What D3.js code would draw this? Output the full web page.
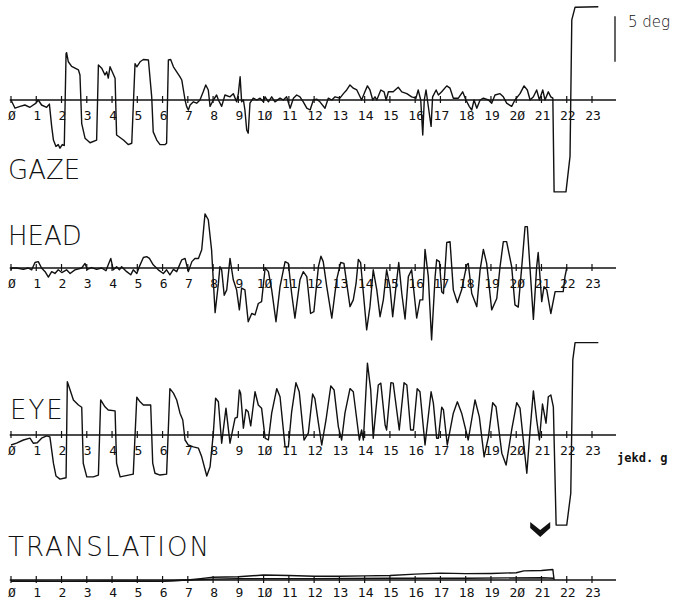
<!DOCTYPE html>
<html>
<head>
<meta charset="utf-8">
<script src="https://cdn.jsdelivr.net/npm/d3@7"></script>
<style>
  html, body { margin: 0; padding: 0; background: #fff; }
  svg { display: block; }
  .panel-label { font-family: "DejaVu Sans", sans-serif; font-weight: 200; font-size: 26px; fill: #111; }
  .tick-label { font-family: "DejaVu Sans Mono", monospace; font-size: 13px; fill: #111; }
</style>
</head>
<body>
<svg id="chart"></svg>
<script>
// time ticks (0..23), the plotter writes zero as a slashed Ø
const tickValues = d3.range(0, 24);
const tickLabels = tickValues.map(v => String(v).replace(/0/g, 'Ø'));

// traces: [time, degrees]
const gaze = [
  [0,0],[0.16,-0.9],[0.36,-0.7],[0.55,-0.55],[0.75,-0.8],[0.99,-0.35],[1.08,0],[1.21,-0.55],[1.41,-0.8],[1.52,-0.45],
  [1.61,-2.9],[1.68,-4.4],[1.78,-5.1],[1.87,-4.9],[1.94,-5.3],[2.03,-4.9],[2.11,-5.0],[2.18,5.1],[2.2,5.2],[2.27,4.2],
  [2.4,3.7],[2.67,3.3],[2.73,2.75],[2.8,-2.6],[2.93,-4.2],[3.13,-4.7],[3.39,-4.4],[3.46,3.85],[3.59,3.5],[3.72,2.75],
  [3.79,3.1],[3.85,2.4],[3.92,3.65],[4.12,2.4],[4.18,-3.85],[4.45,-4.4],[4.64,-4.9],[4.78,-4.75],[4.91,4.0],[4.98,3.65],
  [5.11,4.2],[5.24,4.45],[5.44,4.4],[5.57,0.35],[5.63,-3.5],[5.77,-4.4],[5.9,-4.9],[6.1,-4.9],[6.16,-4.75],[6.23,4.4],
  [6.32,4.45],[6.43,3.65],[6.56,3.1],[6.69,2.55],[6.76,2.2],[6.89,0],[6.95,-0.7],[7.02,-1.1],[7.09,-0.55],[7.22,-0.2],
  [7.35,-0.35],[7.48,0],[7.61,0.9],[7.71,1.65],[7.81,1.1],[7.88,-0.7],[8.01,0],[8.14,0.55],[8.21,0],[8.34,-0.7],
  [8.47,0.55],[8.67,0.35],[8.8,0.7],[8.93,-0.2],[9.0,0.7],[9.07,2.55],[9.13,-0.2],[9.2,0],[9.26,-1.1],[9.33,-3.3],
  [9.39,-3.65],[9.46,-0.35],[9.59,0.2],[9.73,0],[9.86,0.2],[9.99,-0.2],[10.06,0.35],[10.19,-0.2],[10.32,0.35],[10.45,-0.2],
  [10.65,0.2],[10.78,0],[10.91,0.35],[11.05,-0.9],[11.18,0.2],[11.31,0.55],[11.44,0.35],[11.57,-0.2],[11.71,-0.9],[11.84,-1.1],
  [11.97,0],[12.1,0.1],[12.23,-0.2],[12.43,-0.9],[12.56,0.2],[12.7,0],[12.83,0.35],[13.02,0.2],[13.16,0.7],[13.29,1.1],
  [13.42,1.65],[13.55,1.3],[13.69,1.1],[13.88,0],[14.01,0.9],[14.11,1.55],[14.21,1.1],[14.32,0],[14.41,0.35],[14.48,0],
  [14.64,1.1],[14.77,0.9],[14.85,0],[14.94,0.9],[15.13,0.9],[15.33,1.4],[15.47,0.9],[15.67,0.7],[15.86,0.35],[16.03,0.2],
  [16.12,1.1],[16.22,0],[16.3,-3.85],[16.36,0],[16.43,1.1],[16.54,-1.1],[16.63,-2.9],[16.69,0.35],[16.83,1.1],[16.92,0.55],
  [17.05,0.9],[17.25,1.55],[17.38,1.3],[17.51,0.2],[17.71,0.2],[17.88,0.9],[18.01,0],[18.14,-0.7],[18.24,-1.1],[18.33,0],
  [18.44,-0.9],[18.57,0],[18.7,0.2],[18.9,0],[19.03,-0.35],[19.16,0.55],[19.36,0.7],[19.49,0.35],[19.62,-0.35],[19.82,-0.7],
  [19.95,0],[20.15,0.7],[20.31,1.55],[20.44,1.1],[20.55,0],[20.68,0.35],[20.81,1.1],[20.92,0],[21.05,1.1],[21.14,0],
  [21.27,0.9],[21.37,0.35],[21.45,0.2],[21.5,-10.1],[21.97,-10.1],[22.13,-6.2],[22.2,8.8],[22.33,10.2],[23.25,10.25]
];

const head = [
  [0,-0.2],[0.03,0],[0.22,0],[0.49,-0.15],[0.68,0],[0.82,-0.2],[0.95,0.6],[1.08,0.7],[1.21,0],[1.35,-0.4],
  [1.48,-1.0],[1.61,-0.4],[1.74,-0.6],[1.87,-0.2],[2.01,-0.5],[2.2,-0.2],[2.34,-0.6],[2.53,-0.2],[2.8,0],[2.93,0.5],
  [3.02,-0.15],[3.19,0.05],[3.39,-0.15],[3.59,0],[3.76,-0.3],[3.85,0.35],[3.95,1.05],[4.05,-0.2],[4.18,0.15],[4.29,-0.2],
  [4.38,0.15],[4.58,-0.4],[4.74,-0.75],[4.84,-0.2],[4.98,-0.6],[5.08,0.15],[5.24,1.15],[5.37,1.25],[5.48,1.05],[5.63,0.35],
  [5.83,-0.2],[6.03,-0.6],[6.16,-0.2],[6.29,-0.75],[6.43,-0.15],[6.56,-0.4],[6.76,0.9],[6.89,1.05],[7.02,-0.4],[7.16,0.7],
  [7.28,1.05],[7.42,1.05],[7.55,2.0],[7.68,5.95],[7.81,5.3],[7.94,2.0],[8.08,-4.9],[8.21,-1.7],[8.27,0.15],[8.34,-0.2],
  [8.44,-3.0],[8.54,-2.4],[8.67,1.05],[8.8,-1.3],[8.93,-2.4],[9.04,-4.6],[9.13,-2.2],[9.26,-2.4],[9.39,-5.9],[9.53,-5.0],
  [9.66,-5.15],[9.79,-3.9],[9.92,-3.7],[10.06,0],[10.19,-0.4],[10.32,-2.4],[10.49,-5.9],[10.65,-2.05],[10.85,0.7],[10.98,0.5],
  [11.11,-2.8],[11.24,-5.5],[11.44,-1.3],[11.57,-0.4],[11.71,-0.95],[11.86,-5.0],[11.99,-4.8],[12.17,0.15],[12.27,1.3],[12.36,0.7],
  [12.5,-2.05],[12.7,-5.5],[12.89,-1.3],[13.05,0.6],[13.18,0.5],[13.29,-1.7],[13.42,-4.25],[13.55,-3.5],[13.66,-1.7],[13.75,0.95],
  [13.84,0.6],[13.95,-2.8],[14.08,-6.8],[14.21,-4.25],[14.34,-0.2],[14.48,-2.4],[14.61,-5.35],[14.74,-3.5],[14.87,-0.2],[15.0,-2.05],
  [15.11,-5.35],[15.24,-2.05],[15.35,0.6],[15.47,-2.8],[15.6,-5.6],[15.73,-0.95],[15.86,-0.2],[16.06,-5.5],[16.19,-3.5],[16.3,-3.5],
  [16.39,2.05],[16.52,-0.95],[16.65,-7.9],[16.79,-0.95],[16.85,0.9],[16.96,0.7],[17.05,-2.6],[17.12,-2.8],[17.25,2.8],[17.38,2.9],
  [17.51,-2.4],[17.67,-3.8],[17.84,-2.4],[18.04,0.35],[18.1,0.5],[18.24,-2.8],[18.44,-4.25],[18.57,-0.2],[18.7,2.05],[18.83,0.5],
  [19.03,-4.6],[19.23,-3.35],[19.36,0.15],[19.49,2.9],[19.62,2.9],[19.82,0.15],[19.95,-4.05],[20.08,-4.3],[20.22,0.15],[20.35,4.55],
  [20.44,4.55],[20.55,-0.2],[20.68,-5.65],[20.81,0.15],[20.87,1.7],[20.94,-0.95],[21.01,-3.7],[21.1,-2.05],[21.21,-2.4],[21.37,-5.0],
  [21.54,-2.6],[21.86,-2.6],[21.93,-0.95],[22.0,0]
];

const eye = [
  [0,-1.1],[0.22,-0.9],[0.49,-0.55],[0.75,-0.35],[0.88,-0.9],[1.04,-0.85],[1.21,-0.35],[1.41,-0.1],[1.54,-0.2],[1.68,-3.1],
  [1.78,-4.5],[1.94,-4.85],[2.18,-4.7],[2.23,5.85],[2.34,4.95],[2.47,3.85],[2.67,3.3],[2.8,3.05],[2.86,-3.1],[3.0,-4.6],
  [3.26,-4.6],[3.46,-4.4],[3.55,3.85],[3.72,3.1],[3.85,2.75],[4.12,2.65],[4.18,-3.1],[4.32,-4.6],[4.84,-4.3],[4.98,4.15],
  [5.11,3.65],[5.24,3.3],[5.53,3.3],[5.61,-3.1],[5.7,-4.2],[5.9,-4.4],[6.16,-4.3],[6.29,5.1],[6.43,4.6],[6.56,3.85],
  [6.69,2.4],[6.8,1.65],[6.89,-0.55],[7.02,-1.1],[7.22,-1.3],[7.42,-1.45],[7.55,-2.4],[7.75,-4.5],[7.88,-3.5],[8.01,0.2],
  [8.1,4.05],[8.21,3.65],[8.34,-0.9],[8.51,2.95],[8.67,-0.9],[8.87,1.85],[8.96,1.95],[9.04,4.95],[9.09,4.6],[9.2,0.75],
  [9.3,2.8],[9.39,2.55],[9.49,1.0],[9.66,4.75],[9.79,3.3],[9.92,2.95],[10.06,-0.35],[10.19,-0.55],[10.32,2.4],[10.52,5.1],
  [10.65,4.2],[10.85,-1.3],[10.98,-1.3],[11.11,2.55],[11.28,5.75],[11.41,4.75],[11.6,-0.55],[11.77,0.2],[11.94,4.5],[12.03,4.0],
  [12.17,1.3],[12.3,-1.1],[12.47,1.65],[12.66,5.4],[12.79,4.95],[12.96,0.9],[13.09,-0.55],[13.22,2.4],[13.42,5.1],[13.55,4.75],
  [13.79,-0.55],[13.88,0.55],[13.95,-0.55],[14.11,7.9],[14.24,4.95],[14.34,-0.35],[14.54,5.5],[14.64,5.7],[14.81,1.1],[14.87,0.55],
  [15.04,5.75],[15.13,5.7],[15.37,0.55],[15.56,5.75],[15.67,5.5],[15.82,0.55],[15.93,0.55],[16.08,5.1],[16.19,4.75],[16.39,-1.1],
  [16.63,4.75],[16.72,3.5],[16.85,-0.35],[16.92,-0.35],[17.05,3.05],[17.12,2.75],[17.27,-1.1],[17.51,2.4],[17.67,3.65],[17.84,2.4],
  [18.1,-0.55],[18.37,3.85],[18.54,2.0],[18.73,-2.4],[18.9,-0.2],[19.07,3.55],[19.2,3.1],[19.43,-2.0],[19.6,-3.3],[19.82,0.55],
  [20.02,3.55],[20.15,2.95],[20.28,-0.55],[20.42,-4.2],[20.55,0.55],[20.68,4.85],[20.81,1.65],[20.92,-0.55],[21.04,3.4],[21.18,1.3],
  [21.27,4.2],[21.37,4.4],[21.47,3.1],[21.58,-9.9],[22.0,-9.9],[22.16,-6.4],[22.24,8.25],[22.33,10.15],[23.25,10.15]
];

const translationUpper = [
  [0,-0.1],[2,-0.15],[4,-0.1],[6,-0.12],[7,0],[7.5,0.15],[8,0.3],[9,0.35],[10,0.55],[11,0.5],[12,0.42],[13,0.42],
  [14,0.45],[15,0.5],[16,0.65],[17,0.75],[18,0.7],[19,0.72],[20,0.8],[20.3,1.0],[21,1.05],[21.45,1.15],[21.5,0]
];
const translationLower = [
  [0,-0.15],[3,-0.15],[6,-0.15],[7,0],[8,0.1],[9,0.15],[12,0.15],[15,0.2],[18,0.2],[21,0.25],[21.5,0.2]
];

// panel names with their traces
const panels = [
  { name: 'GAZE', data: [gaze], axisY: 100, labelX: 8, labelY: 179, spacing: 0, labelOffset: 20 },
  { name: 'HEAD', data: [head], axisY: 268, labelX: 8, labelY: 245, spacing: 0, labelOffset: 20 },
  { name: 'EYE', data: [eye], axisY: 435, labelX: 10, labelY: 419, spacing: 2, labelOffset: 20 },
  { name: 'TRANSLATION', data: [translationUpper, translationLower], axisY: 580, labelX: 8, labelY: 556, spacing: 2, labelOffset: 17 }
];

const width = 683, height = 602;
const svg = d3.select('#chart').attr('width', width).attr('height', height);

const x = d3.scaleLinear().domain([0, 23]).range([11, 592]);

const line = (y) => d3.line()
  .x(d => x(d[0]))
  .y(d => y(d[1]));

panels.forEach(p => {
  const y = d3.scaleLinear().domain([-10, 10]).range([p.axisY + 91, p.axisY - 91]);
  p.y = y;
  const g = svg.append('g').attr('class', 'panel');

  // baseline
  g.append('line')
    .attr('x1', x(-0.05)).attr('x2', x(23.95))
    .attr('y1', y(0)).attr('y2', y(0))
    .attr('stroke', '#111').attr('stroke-width', 1.3);

  // tick marks
  g.selectAll('.tick')
    .data(tickValues)
    .join('line')
    .attr('class', 'tick')
    .attr('x1', d => x(d)).attr('x2', d => x(d))
    .attr('y1', y(0) - 4).attr('y2', y(0) + 3)
    .attr('stroke', '#111').attr('stroke-width', 1.2);

  // tick labels
  g.selectAll('.tick-label')
    .data(tickValues)
    .join('text')
    .attr('class', 'tick-label')
    .attr('x', d => x(d) + 1)
    .attr('y', y(0) + p.labelOffset)
    .attr('text-anchor', 'middle')
    .text((d, i) => tickLabels[i]);

  // traces
  p.data.forEach(series => {
    g.append('path')
      .datum(series)
      .attr('d', line(y))
      .attr('fill', 'none')
      .attr('stroke', '#111')
      .attr('stroke-width', 1.4)
      .attr('stroke-linejoin', 'round');
  });

  g.append('text')
    .attr('class', 'panel-label')
    .attr('x', p.labelX)
    .attr('y', p.labelY)
    .attr('letter-spacing', p.spacing)
    .text(p.name);
});

// 5 deg scale bar, drawn against the gaze scale
const yGaze = panels[0].y;
svg.append('line')
  .attr('x1', 615).attr('x2', 615)
  .attr('y1', yGaze(9.2)).attr('y2', yGaze(4.2))
  .attr('stroke', '#111').attr('stroke-width', 1.3);
svg.append('text')
  .attr('x', 628).attr('y', 27)
  .attr('font-family', '"DejaVu Sans", sans-serif')
  .attr('font-weight', 200)
  .attr('font-size', 15)
  .attr('fill', '#111')
  .text('5 deg');

// unit note beside the eye axis
const yEye = panels[2].y;
svg.append('text')
  .attr('x', 617).attr('y', yEye(0) + 27)
  .attr('font-family', '"DejaVu Sans Mono", monospace')
  .attr('font-weight', 'bold')
  .attr('font-size', 12)
  .attr('fill', '#111')
  .text('jekd. g');

// chevron marker over the translation trace
const yTrans = panels[3].y;
svg.append('path')
  .attr('transform', `translate(${x(20.95)},${yTrans(0) - 50})`)
  .attr('d', 'M-10,-8 L0,0 L10,-8 L10,-2 L0,7 L-10,-2 Z')
  .attr('fill', '#111');
</script>
</body>
</html>
